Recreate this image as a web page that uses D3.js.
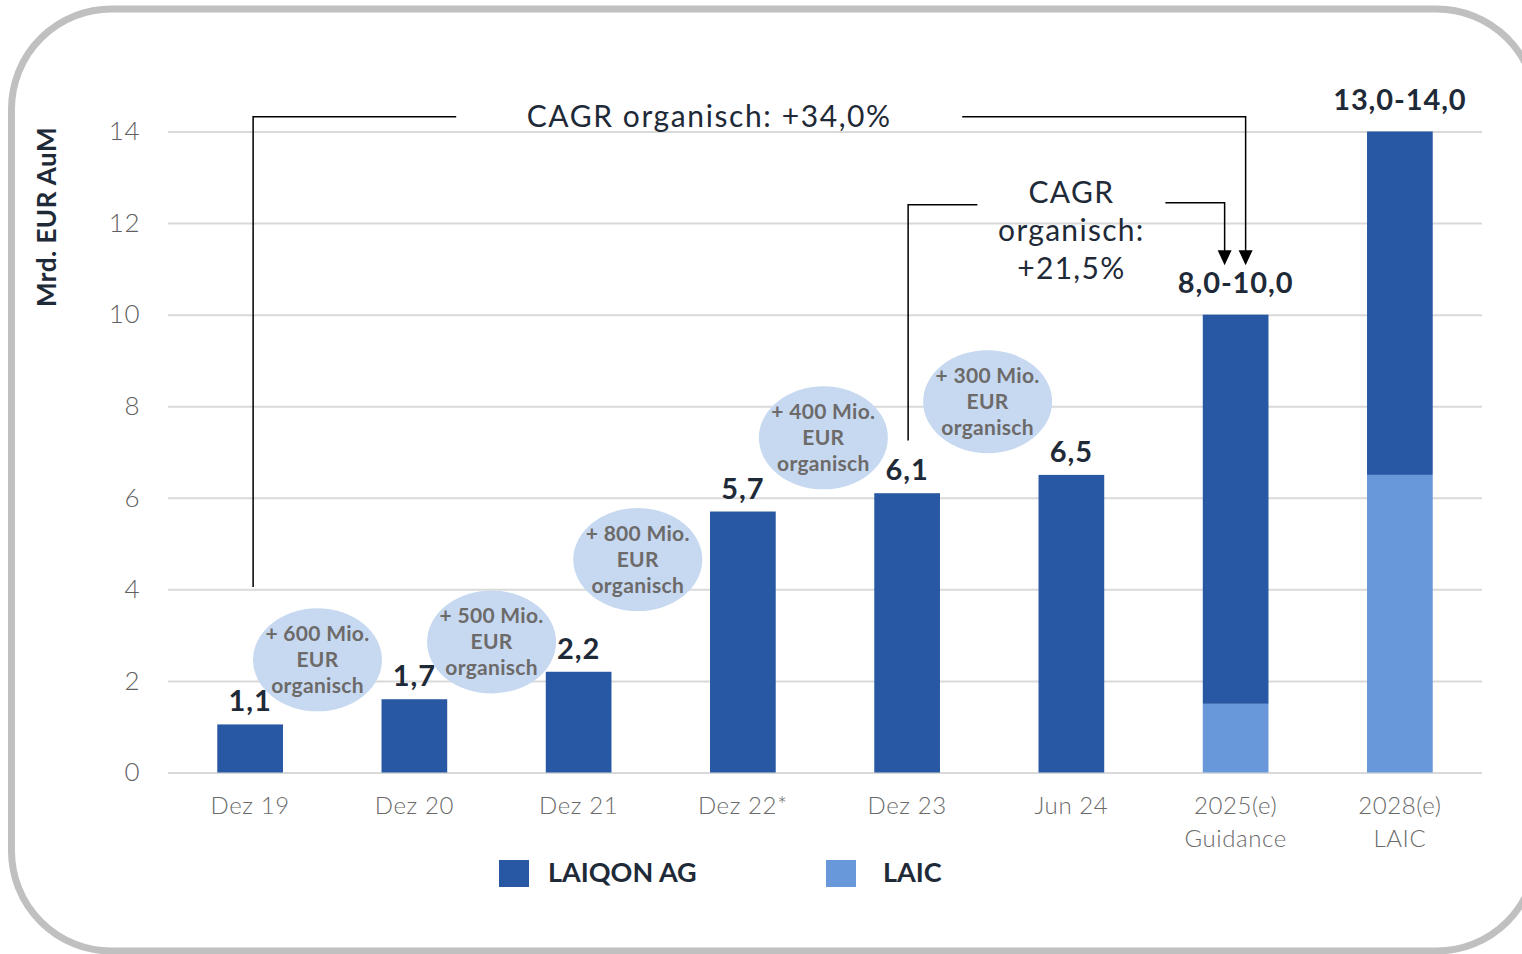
<!DOCTYPE html>
<html>
<head>
<meta charset="utf-8">
<script src="https://cdn.jsdelivr.net/npm/d3@7"></script>
<style>
  body { margin: 0; background: #fff; }
  svg { display: block; font-family: Lato, "Open Sans", sans-serif; }
</style>
</head>
<body>
<svg id="chart" width="1522" height="954"></svg>
<script>
// data
const categories = ["Dez 19", "Dez 20", "Dez 21", "Dez 22*", "Dez 23", "Jun 24", "2025(e)", "2028(e)"]
const subLabels = ["", "", "", "", "", "", "Guidance", "LAIC"]
const laiqonAG = [1.05, 1.6, 2.2, 5.7, 6.1, 6.5, 8.5, 7.5]
const laic = [0, 0, 0, 0, 0, 0, 1.5, 6.5]
const valueLabels = ["1,1", "1,7", "2,2", "5,7", "6,1", "6,5", "8,0-10,0", "13,0-14,0"]
const yTicks = [0, 2, 4, 6, 8, 10, 12, 14]
const seriesNames = ["LAIQON AG", "LAIC"]

// organic growth bubbles: text, position in band steps, level in Mrd. EUR
const organicAmounts = ["+ 600 Mio.", "+ 500 Mio.", "+ 800 Mio.", "+ 400 Mio.", "+ 300 Mio."]
const organicAt = [0.41, 1.47, 2.36, 3.49, 4.49]
const organicLevel = [2.46, 2.85, 4.65, 7.31, 8.1]

const colors = { "LAIQON AG": "#2858a4", "LAIC": "#6897da" }
const dark = "#1f2a38"

const svg = d3.select("#chart")

// rounded frame
svg.append("rect")
  .attr("x", 11.5).attr("y", 9)
  .attr("width", 1525).attr("height", 942)
  .attr("rx", 100).attr("ry", 100)
  .attr("fill", "#fff")
  .attr("stroke", "#c0c0c0")
  .attr("stroke-width", 7)

const margin = { left: 168, right: 1482, top: 131.5, bottom: 772.5 }

const x = d3.scaleBand()
  .domain(categories)
  .range([margin.left, margin.right])
  .paddingInner(0.6)
  .paddingOuter(0.3)

const y = d3.scaleLinear()
  .domain([0, 14])
  .range([margin.bottom, margin.top])

const bx = i => x(categories[0]) + x.bandwidth() / 2 + i * x.step()

// y axis with gridlines
const yAxis = svg.append("g")
  .attr("transform", `translate(${margin.left},0)`)
  .call(d3.axisLeft(y).tickValues(yTicks).tickSize(-(margin.right - margin.left)).tickPadding(28).tickFormat(d3.format("d")))
yAxis.attr("font-family", null)
yAxis.select(".domain").remove()
yAxis.selectAll(".tick line").attr("stroke", "#d9d9d9").attr("stroke-width", 2)
yAxis.selectAll(".tick text")
  .attr("fill", "#5f5f5f")
  .attr("font-size", 26)
  .attr("font-weight", 300)
  .attr("letter-spacing", 0.5)

svg.append("text")
  .attr("transform", `translate(56,217) rotate(-90)`)
  .attr("text-anchor", "middle")
  .attr("font-size", 26)
  .attr("font-weight", 700)
  .attr("letter-spacing", 0.5)
  .attr("fill", dark)
  .text("Mrd. EUR AuM")

// x axis labels
const xAxis = svg.append("g")
  .attr("transform", `translate(0,${margin.bottom})`)
  .call(d3.axisBottom(x).tickSize(0).tickPadding(0))
xAxis.attr("font-family", null)
xAxis.select(".domain").remove()
xAxis.selectAll(".tick text").each(function (d, i) {
  const t = d3.select(this).text(null)
    .attr("fill", "#6a6a6a")
    .attr("font-size", 24)
    .attr("font-weight", 300)
    .attr("letter-spacing", 0.6)
    .attr("y", 0).attr("dy", 0)
  t.append("tspan").attr("x", 0).attr("y", 41).text(d)
  if (subLabels[i]) t.append("tspan").attr("x", 0).attr("y", 74).text(subLabels[i])
})

// stacked bars
const rows = categories.map((c, i) => ({ cat: c, "LAIC": laic[i], "LAIQON AG": laiqonAG[i] }))
const stack = d3.stack().keys(["LAIC", "LAIQON AG"])(rows)

svg.append("g").selectAll("g")
  .data(stack)
  .join("g")
  .attr("fill", s => colors[s.key])
  .selectAll("rect")
  .data(s => s.filter(d => d[1] > d[0]))
  .join("rect")
  .attr("x", d => x(d.data.cat))
  .attr("width", x.bandwidth())
  .attr("y", d => y(d[1]))
  .attr("height", d => y(d[0]) - y(d[1]))

// value labels
svg.append("g").selectAll("text")
  .data(categories)
  .join("text")
  .attr("x", c => x(c) + x.bandwidth() / 2)
  .attr("y", (c, i) => y(laiqonAG[i] + laic[i]) - (laic[i] > 0 ? 22 : 13))
  .attr("text-anchor", "middle")
  .attr("font-size", 29)
  .attr("font-weight", 700)
  .attr("letter-spacing", 0.9)
  .attr("fill", dark)
  .text((c, i) => valueLabels[i])

// organic growth bubbles
const bubbles = svg.append("g").selectAll("g")
  .data(organicAmounts)
  .join("g")
  .attr("transform", (d, i) => `translate(${bx(organicAt[i])},${y(organicLevel[i])})`)
bubbles.append("ellipse")
  .attr("rx", 64.5).attr("ry", 51.5)
  .attr("fill", "#c6d9f1")
bubbles.append("text")
  .attr("text-anchor", "middle")
  .attr("font-size", 21)
  .attr("font-weight", 700)
  .attr("letter-spacing", 0.3)
  .attr("fill", "#6d6a6a")
  .selectAll("tspan")
  .data(d => [d, "EUR", "organisch"])
  .join("tspan")
  .attr("x", 0)
  .attr("y", (d, j) => 7 + (j - 1) * 26)
  .text(d => d)

// CAGR brackets
const line = svg.append("g").attr("fill", "none").attr("stroke", "#000").attr("stroke-width", 1.5)
const arrow = (ax, tipY) => svg.append("path")
  .attr("d", `M${ax - 7},${tipY - 15}L${ax + 7},${tipY - 15}L${ax},${tipY}Z`)
  .attr("fill", "#000")

const topY = y(14.32)
const tipY = y(11.08)
const longText = { cx: bx(2.795), half: 253 }
const longRight = bx(6) + 10
line.append("path").attr("d", `M${bx(0) + 3},${y(4.05)}V${topY}H${longText.cx - longText.half}`)
line.append("path").attr("d", `M${longText.cx + longText.half},${topY}H${longRight}V${tipY - 14}`)
arrow(longRight, tipY)

svg.append("text")
  .attr("x", longText.cx).attr("y", 127)
  .attr("text-anchor", "middle")
  .attr("font-size", 30)
  .attr("letter-spacing", 1.6)
  .attr("fill", dark)
  .text("CAGR organisch: +34,0%")

const shortY = y(12.4)
const shortText = { cx: bx(5), half: 94 }
const shortRight = bx(6) - 11
line.append("path").attr("d", `M${bx(4) + 1},${y(7.25)}V${shortY}H${shortText.cx - shortText.half}`)
line.append("path").attr("d", `M${shortText.cx + shortText.half},${shortY - 2}H${shortRight}V${tipY - 14}`)
arrow(shortRight, tipY)

svg.append("text")
  .attr("text-anchor", "middle")
  .attr("font-size", 30)
  .attr("letter-spacing", 1.3)
  .attr("fill", dark)
  .selectAll("tspan")
  .data(["CAGR", "organisch:", "+21,5%"])
  .join("tspan")
  .attr("x", shortText.cx)
  .attr("y", (d, j) => 203 + j * 38)
  .text(d => d)

// legend
const legend = svg.append("g").selectAll("g")
  .data(seriesNames)
  .join("g")
  .attr("transform", (d, i) => `translate(${i ? 826 : 499},860)`)
legend.append("rect")
  .attr("width", 30).attr("height", 27)
  .attr("fill", d => colors[d])
legend.append("text")
  .attr("x", (d, i) => i ? 57 : 49).attr("y", 22)
  .attr("font-size", 27)
  .attr("font-weight", 700)
  .attr("fill", dark)
  .text(d => d)
</script>
</body>
</html>
